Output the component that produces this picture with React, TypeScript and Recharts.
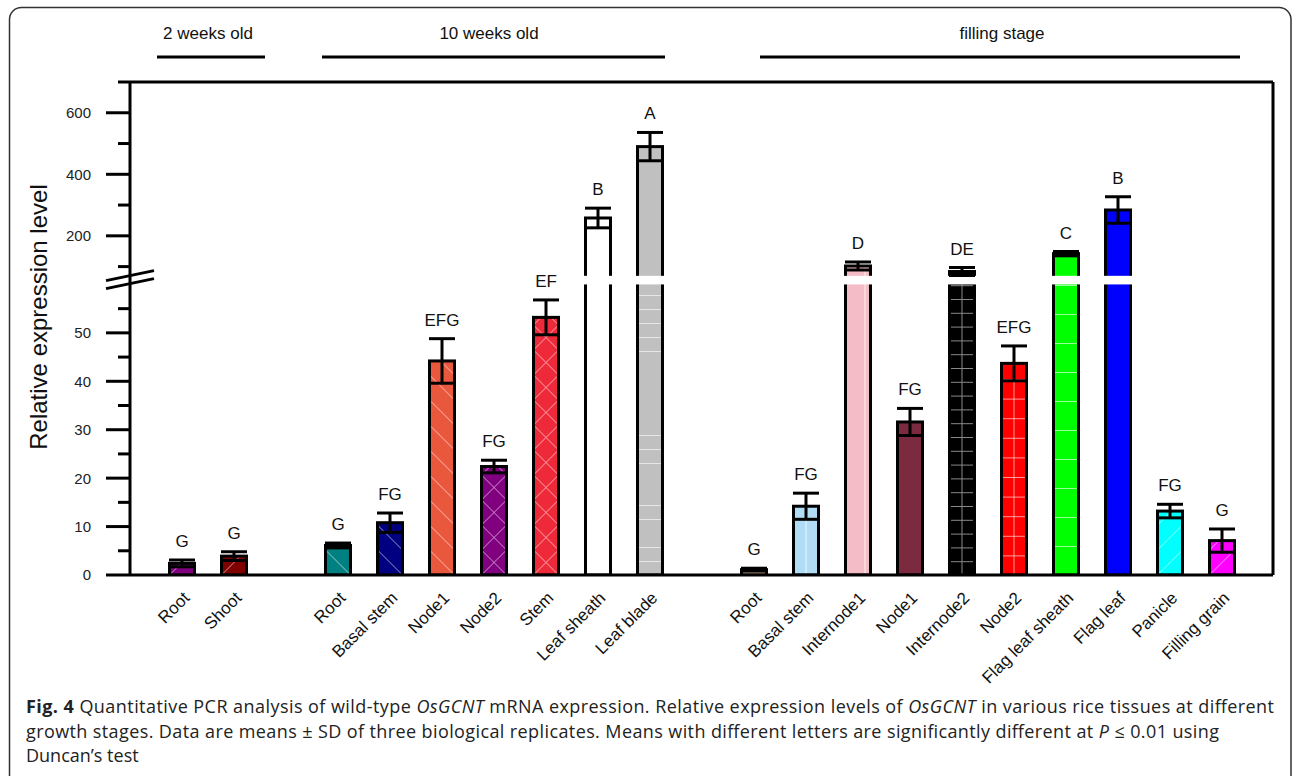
import React from "react";
import { BarChart, Bar, XAxis, YAxis, ErrorBar } from "recharts";

// tissues in plotting order, "" marks an empty slot between stages
const tissues = [
  "Root", "Shoot", "",
  "Root", "Basal stem", "Node1", "Node2", "Stem", "Leaf sheath", "Leaf blade", "",
  "Root", "Basal stem", "Internode1", "Node1", "Internode2", "Node2",
  "Flag leaf sheath", "Flag leaf", "Panicle", "Filling grain",
];
const means = [
  2.4, 3.9, null,
  6.1, 10.8, 44.2, 22.4, 53.2, 258, 490, null,
  1.1, 14.2, 102, 31.6, 84, 43.7, 142, 284, 13.2, 7.1,
];
const sds = [
  0.7, 0.9, null,
  0.5, 2.0, 4.6, 1.3, 3.6, 32, 46, null,
  0.3, 2.7, 13, 2.8, 13, 3.6, 7, 43, 1.4, 2.4,
];
const letters = [
  "G", "G", "",
  "G", "FG", "EFG", "FG", "EF", "B", "A", "",
  "G", "FG", "D", "FG", "DE", "EFG", "C", "B", "FG", "G",
];

const stages = ["2 weeks old", "10 weeks old", "filling stage"];

const lowTicks = [0, 5, 10, 15, 20, 25, 30, 35, 40, 45, 50, 55];
const highTicks = [100, 200, 300, 400, 500, 600, 700];
const majorTicks = [0, 10, 20, 30, 40, 50, 200, 400, 600];

// broken y axis: 0-60 linear, from 70 up compressed
const LOW_MAX = 60;
const UP_MIN = 70;
const UP_SLOPE = 0.06353;
const UP_BASE = 57.33;
const toAxis = (v: number) => (v <= LOW_MAX ? v : UP_BASE + v * UP_SLOPE);
const fromAxis = (d: number) => (d <= LOW_MAX + 0.5 ? d : (d - UP_BASE) / UP_SLOPE);
const Y_MAX = toAxis(700);
const BREAK_MARK = (LOW_MAX + toAxis(UP_MIN)) / 2;

type BarStyle = { fill: string; pattern: string; step?: number; line?: string; vx?: number };

const barStyles: (BarStyle | null)[] = [
  { fill: "#800080", pattern: "fwd" },
  { fill: "#800000", pattern: "fwd" },
  null,
  { fill: "#008080", pattern: "back" },
  { fill: "#000080", pattern: "back" },
  { fill: "#E9573D", pattern: "back" },
  { fill: "#800080", pattern: "cross" },
  { fill: "#EE2A3A", pattern: "cross" },
  { fill: "#FFFFFF", pattern: "none" },
  { fill: "#C0C0C0", pattern: "hlines", step: 14 },
  null,
  { fill: "#EFCFAF", pattern: "none" },
  { fill: "#B0DCF5", pattern: "vline", vx: 0.5 },
  { fill: "#F4BCC6", pattern: "vline", vx: 0.78 },
  { fill: "#7B2A3F", pattern: "none" },
  { fill: "#000000", pattern: "grid", step: 13.8, line: "#8a8a8a" },
  { fill: "#FF0000", pattern: "grid", step: 19.6 },
  { fill: "#00FF00", pattern: "hlines", step: 29 },
  { fill: "#0000FF", pattern: "none" },
  { fill: "#00FFFF", pattern: "fwd" },
  { fill: "#FF00FF", pattern: "fwd" },
];

const rows = tissues.map((name, i) => {
  const m = means[i];
  const s = sds[i];
  if (m == null || s == null) {
    return { key: i, name, mean: null, sd: null, letter: "", disp: null, err: null };
  }
  const d = toAxis(m);
  return {
    key: i,
    name,
    mean: m,
    sd: s,
    letter: letters[i],
    disp: d,
    err: [d - toAxis(m - s), toAxis(m + s) - d],
  };
});

const FONT = "'Liberation Sans', Arial, sans-serif";

function PatternBar(props: any) {
  const { x, y, width, height, payload } = props;
  if (!payload || payload.disp == null || !height) return <g />;
  const i = payload.key;
  const st = barStyles[i] as BarStyle;
  const w = width;
  const base = y + height;
  const ppu = height / payload.disp;
  const step = st.step ?? w;
  const lc = st.line ?? "rgba(255,255,255,0.6)";
  const id = `hatch-${i}`;

  let lines: React.ReactNode = null;
  if (st.pattern === "fwd") lines = <line x1={0} y1={step} x2={w} y2={0} stroke={lc} strokeWidth={1} />;
  if (st.pattern === "back") lines = <line x1={0} y1={0} x2={w} y2={step} stroke={lc} strokeWidth={1} />;
  if (st.pattern === "cross")
    lines = (
      <>
        <line x1={0} y1={step} x2={w} y2={0} stroke={lc} strokeWidth={1} />
        <line x1={0} y1={0} x2={w} y2={step} stroke={lc} strokeWidth={1} />
      </>
    );
  if (st.pattern === "hlines") lines = <line x1={0} y1={0.5} x2={w} y2={0.5} stroke={lc} strokeWidth={1} />;
  if (st.pattern === "grid")
    lines = (
      <>
        <line x1={0} y1={0.5} x2={w} y2={0.5} stroke={lc} strokeWidth={1} />
        <line x1={w / 2} y1={0} x2={w / 2} y2={step} stroke={lc} strokeWidth={1} />
      </>
    );
  if (st.pattern === "vline") {
    const vx = w * (st.vx ?? 0.5);
    lines = <line x1={vx} y1={0} x2={vx} y2={step} stroke="rgba(255,255,255,0.8)" strokeWidth={1} />;
  }

  const breakTop = base - toAxis(UP_MIN) * ppu;
  const breakBottom = base - LOW_MAX * ppu;
  const errTop = base - toAxis(payload.mean + payload.sd) * ppu;

  return (
    <g>
      <defs>
        <pattern id={id} patternUnits="userSpaceOnUse" x={x} y={base} width={w} height={step}>
          {lines}
        </pattern>
      </defs>
      <rect x={x} y={y} width={w} height={height} fill={st.fill} />
      {st.pattern !== "none" && <rect x={x} y={y} width={w} height={height} fill={`url(#${id})`} />}
      <rect x={x} y={y} width={w} height={height} fill="none" stroke="#000" strokeWidth={3} />
      {payload.mean > LOW_MAX && (
        <rect x={x - 3} y={breakTop} width={w + 6} height={breakBottom - breakTop} fill="#fff" />
      )}
      <text x={x + w / 2} y={errTop - 13} textAnchor="middle" fontSize={17} fontFamily={FONT} fill="#111">
        {payload.letter}
      </text>
    </g>
  );
}

function YTick(props: any) {
  const { x, y, payload } = props;
  const d = payload.value;
  if (Math.abs(d - BREAK_MARK) < 1e-6) {
    return (
      <g stroke="#000" strokeWidth={3}>
        <line x1={x - 24} y1={y + 0.5} x2={x + 24} y2={y - 9.5} />
        <line x1={x - 24} y1={y + 8.5} x2={x + 24} y2={y - 1.5} />
      </g>
    );
  }
  const v = Math.round(fromAxis(d));
  const major = majorTicks.includes(v);
  return (
    <g>
      <line x1={x - (major ? 24 : 12)} y1={y} x2={x} y2={y} stroke="#000" strokeWidth={3} />
      {major && (
        <text x={x - 39} y={y} dy="0.36em" textAnchor="end" fontSize={15} fontFamily={FONT} fill="#222">
          {v}
        </text>
      )}
    </g>
  );
}

function XTick(props: any) {
  const { x, y, payload } = props;
  const name = rows[payload.value]?.name ?? "";
  if (!name) return <g />;
  const ex = x + 9;
  const ey = y + 24;
  return (
    <text
      x={ex}
      y={ey}
      textAnchor="end"
      fontSize={17}
      fontFamily={FONT}
      fill="#111"
      transform={`rotate(-45 ${ex} ${ey})`}
    >
      {name}
    </text>
  );
}

const yTicks = [...lowTicks, ...highTicks].map(toAxis).concat([BREAK_MARK]);

export default function App() {
  return (
    <div style={{ position: "absolute", left: 0, top: 0, width: 1292, height: 776, background: "#fff" }}>
      <svg width={1292} height={776} style={{ position: "absolute", left: 0, top: 0 }}>
        <rect x={9.5} y={7.5} width={1281.5} height={820} rx={12} fill="none" stroke="#333" strokeWidth={1.5} />
        <g fontFamily={FONT} fontSize={17} fill="#111" textAnchor="middle">
          <text x={208} y={39}>{stages[0]}</text>
          <text x={489} y={39}>{stages[1]}</text>
          <text x={1002} y={39}>{stages[2]}</text>
        </g>
        <g stroke="#000" strokeWidth={3}>
          <line x1={157} y1={57} x2={265} y2={57} />
          <line x1={322} y1={57} x2={665} y2={57} />
          <line x1={760} y1={57} x2={1240} y2={57} />
        </g>
        <text
          transform="translate(47 317) rotate(-90)"
          textAnchor="middle"
          fontSize={24}
          fontFamily={FONT}
          fill="#111"
        >
          Relative expression level
        </text>
        <g fontFamily="'Open Sans', sans-serif" fontSize={18} fill="#222">
          <text x={26} y={713} textLength={1248} lengthAdjust="spacing">
            <tspan fontWeight="bold">Fig. 4</tspan> Quantitative PCR analysis of wild-type{" "}
            <tspan fontStyle="italic">OsGCNT</tspan> mRNA expression. Relative expression levels of{" "}
            <tspan fontStyle="italic">OsGCNT</tspan> in various rice tissues at different
          </text>
          <text x={26} y={737.5} textLength={1193} lengthAdjust="spacing">
            growth stages. Data are means ± SD of three biological replicates. Means with different letters are
            significantly different at <tspan fontStyle="italic">P</tspan> ≤ 0.01 using
          </text>
          <text x={26} y={762}>Duncan’s test</text>
        </g>
      </svg>
      <div style={{ position: "absolute", left: 0, top: 0 }}>
        <BarChart
          width={1292}
          height={776}
          data={rows}
          margin={{ top: 72, right: 9, bottom: 141, left: 60 }}
        >
          <XAxis
            dataKey="key"
            type="category"
            height={60}
            interval={0}
            padding={{ left: 25.5, right: 25.5 }}
            axisLine={{ stroke: "#000", strokeWidth: 3 }}
            tickLine={false}
            tickSize={0}
            tickMargin={0}
            tick={<XTick />}
          />
          <XAxis
            xAxisId="top"
            orientation="top"
            dataKey="key"
            type="category"
            height={10}
            axisLine={{ stroke: "#000", strokeWidth: 3 }}
            tickLine={false}
            tick={false}
          />
          <YAxis
            type="number"
            width={70}
            domain={[0, Y_MAX]}
            allowDataOverflow
            ticks={yTicks}
            interval={0}
            axisLine={{ stroke: "#000", strokeWidth: 3 }}
            tickLine={false}
            tickSize={0}
            tickMargin={0}
            tick={<YTick />}
          />
          <YAxis
            yAxisId="right"
            orientation="right"
            type="number"
            width={10}
            domain={[0, Y_MAX]}
            axisLine={{ stroke: "#000", strokeWidth: 3 }}
            tickLine={false}
            tick={false}
          />
          <Bar dataKey="disp" barSize={25} isAnimationActive={false} shape={<PatternBar />}>
            <ErrorBar dataKey="err" width={13} stroke="#000" strokeWidth={3} isAnimationActive={false} />
          </Bar>
        </BarChart>
      </div>
    </div>
  );
}
